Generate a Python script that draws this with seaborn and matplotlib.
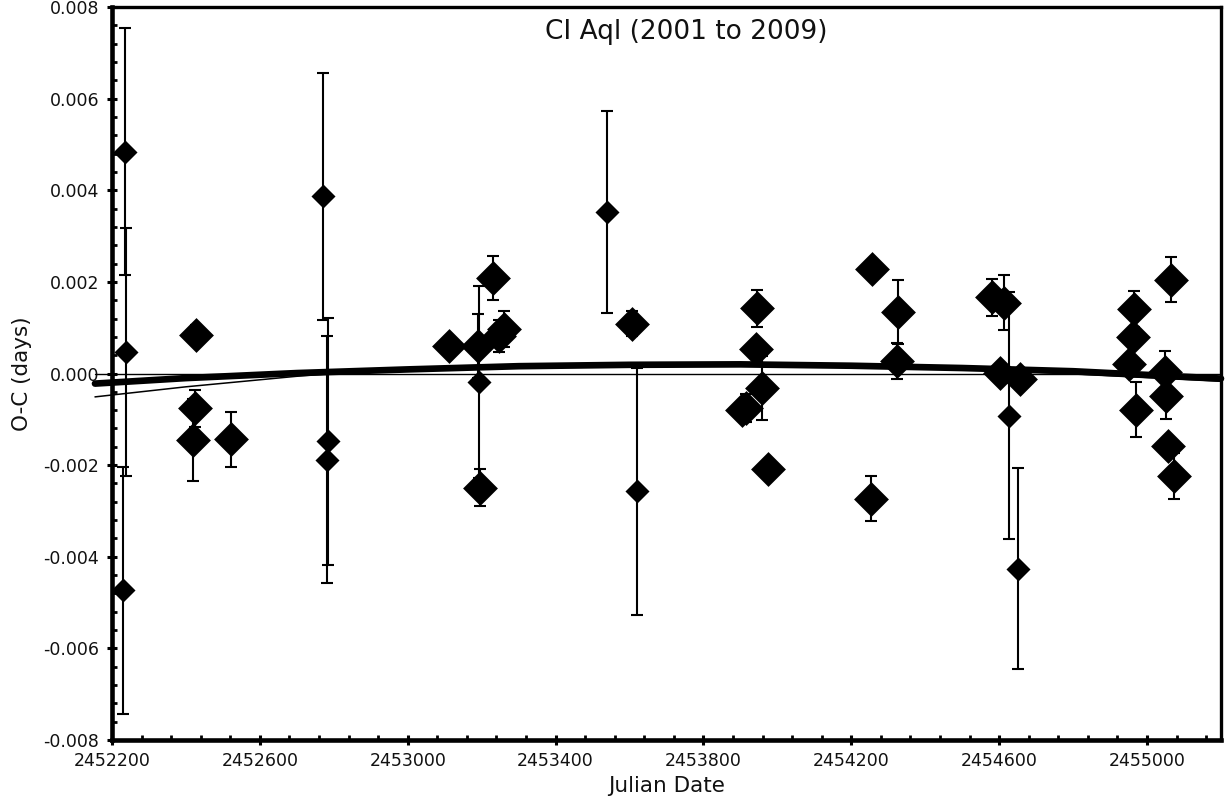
import matplotlib
matplotlib.use("Agg")
import matplotlib.pyplot as plt
from matplotlib.ticker import MultipleLocator, FuncFormatter
import numpy as np
import pandas as pd
import seaborn as sns

# Timings with large uncertainty (small diamonds)
jd_small = [2452234, 2452239, 2452231, 2452770, 2452785, 2452781, 2453193,
            2453539, 2453619, 2454626, 2454651]
oc_small = [0.00484, 0.00047, -0.00473, 0.00387, -0.00148, -0.00188, -0.00019,
            0.00353, -0.00257, -0.00092, -0.00426]
err_small = [0.0027, 0.0027, 0.0027, 0.0027, 0.0027, 0.0027, 0.0021,
             0.0022, 0.0027, 0.0027, 0.0022]

# Timings with small uncertainty (large diamonds)
jd_large = [2452427, 2452425, 2452419, 2452522, 2453112, 2453189, 2453195,
            2453230, 2453247, 2453261, 2453607, 2453945, 2453943, 2453959,
            2453916, 2453903, 2453975, 2454257, 2454326, 2454324, 2454252,
            2454581, 2454612, 2454601, 2454655, 2454966, 2454961, 2454952,
            2454970, 2455065, 2455049, 2455051, 2455056, 2455074]
oc_large = [0.00085, -0.00076, -0.00145, -0.00144, 0.00060, 0.00060, -0.00249,
            0.00209, 0.00082, 0.00097, 0.00109, 0.00142, 0.00054, -0.00031,
            -0.00075, -0.00080, -0.00209, 0.00228, 0.00134, 0.00027, -0.00273,
            0.00166, 0.00154, 0.00001, -0.00013, 0.00141, 0.00079, 0.00020,
            -0.00079, 0.00205, 0.00003, -0.00049, -0.00159, -0.00224]
err_large = [0.0002, 0.0004, 0.0009, 0.0006, 0.0002, 0.0007, 0.0004,
             0.00048, 0.00035, 0.0004, 0.00027, 0.0004, 0.0002, 0.0007,
             0.0003, 0.0002, 0.0002, 0.0001, 0.0007, 0.0004, 0.0005,
             0.0004, 0.0006, 0.0002, 0.0002, 0.0004, 0.0002, 0.0002,
             0.0006, 0.00049, 0.00047, 0.0005, 0.0002, 0.0005]

# Fitted trends
fit_jd = [2452154, 2452400, 2452700, 2453000, 2453300, 2453600, 2453900,
          2454200, 2454500, 2454800, 2455200]
fit_thick = [-0.00022, -0.00010, 0.00001, 0.00009, 0.00016, 0.00019, 0.00020,
             0.00017, 0.00012, 0.00005, -0.00011]
fit2_jd = [2452154, 2452400, 2452700, 2452900, 2453300, 2453900, 2454500,
           2455200]
fit_thin = [-0.00051, -0.00029, -0.00006, 0.00006, 0.00015, 0.00019, 0.00011,
            -0.00017]
zero_jd = [2452154, 2455200]
zero_oc = [0.0, 0.0]

sns.set_theme(style="white")
plt.rcParams["font.family"] = ["DejaVu Sans"]
plt.rcParams["axes.unicode_minus"] = False

fig = plt.figure(figsize=(12.28, 8.07), dpi=100)
ax = fig.add_axes([0.0912, 0.0830, 0.9031, 0.9083])

df_small = pd.DataFrame({"jd": jd_small, "oc": oc_small})
df_large = pd.DataFrame({"jd": jd_large, "oc": oc_large})

# Trend lines
sns.lineplot(x=zero_jd, y=zero_oc, ax=ax, color="black", linewidth=1.0,
             sort=False)
sns.lineplot(x=fit2_jd, y=fit_thin, ax=ax, color="black", linewidth=1.1,
             sort=False)
sns.lineplot(x=fit_jd, y=fit_thick, ax=ax, color="black", linewidth=4.8,
             sort=False)
for ln in ax.lines:
    ln.set_clip_on(False)

# Error bars
ax.errorbar(jd_small, oc_small, yerr=err_small, fmt="none", ecolor="black",
            elinewidth=1.5, capsize=4.6, capthick=1.5, zorder=3)
ax.errorbar(jd_large, oc_large, yerr=err_large, fmt="none", ecolor="black",
            elinewidth=1.5, capsize=4.6, capthick=1.5, zorder=3)

# Markers
sns.scatterplot(data=df_small, x="jd", y="oc", ax=ax, marker="D", s=150,
                color="black", linewidth=0, zorder=4)
sns.scatterplot(data=df_large, x="jd", y="oc", ax=ax, marker="D", s=315,
                color="black", linewidth=0, zorder=4)

ax.set_xlim(2452200, 2455200)
ax.set_ylim(-0.008, 0.008)

ax.xaxis.set_major_locator(MultipleLocator(400, offset=200))
ax.xaxis.set_minor_locator(MultipleLocator(80, offset=40))
ax.yaxis.set_major_locator(MultipleLocator(0.002))
ax.yaxis.set_minor_locator(MultipleLocator(0.0004))
ax.xaxis.set_major_formatter(FuncFormatter(lambda v, p: f"{v:.0f}"))
ax.yaxis.set_major_formatter(FuncFormatter(lambda v, p: f"{v:.3f}"))

ax.tick_params(axis="both", which="major", direction="inout", length=7.5,
               width=2.2, color="black", labelsize=12.5, labelcolor="#111111")
ax.tick_params(axis="both", which="minor", direction="in", length=3.6,
               width=2.0, color="black")
ax.tick_params(axis="y", which="major", pad=5.5, left=True)
ax.tick_params(axis="x", which="major", pad=5, bottom=True)
ax.tick_params(axis="both", which="minor", left=True, bottom=True)

for side in ["left", "bottom"]:
    ax.spines[side].set_linewidth(3.3)
for side in ["top", "right"]:
    ax.spines[side].set_linewidth(2.4)
for sp in ax.spines.values():
    sp.set_color("black")

ax.set_xlabel("Julian Date", fontsize=15.5, color="#111111", labelpad=4)
ax.set_ylabel("O-C (days)", fontsize=15.5, color="#111111", labelpad=8)

fig.text(686 / 1228, 1 - 39 / 807, "CI Aql (2001 to 2009)", ha="center",
         va="baseline", fontsize=19, color="#111111")

fig.savefig("out.png", dpi=100)
